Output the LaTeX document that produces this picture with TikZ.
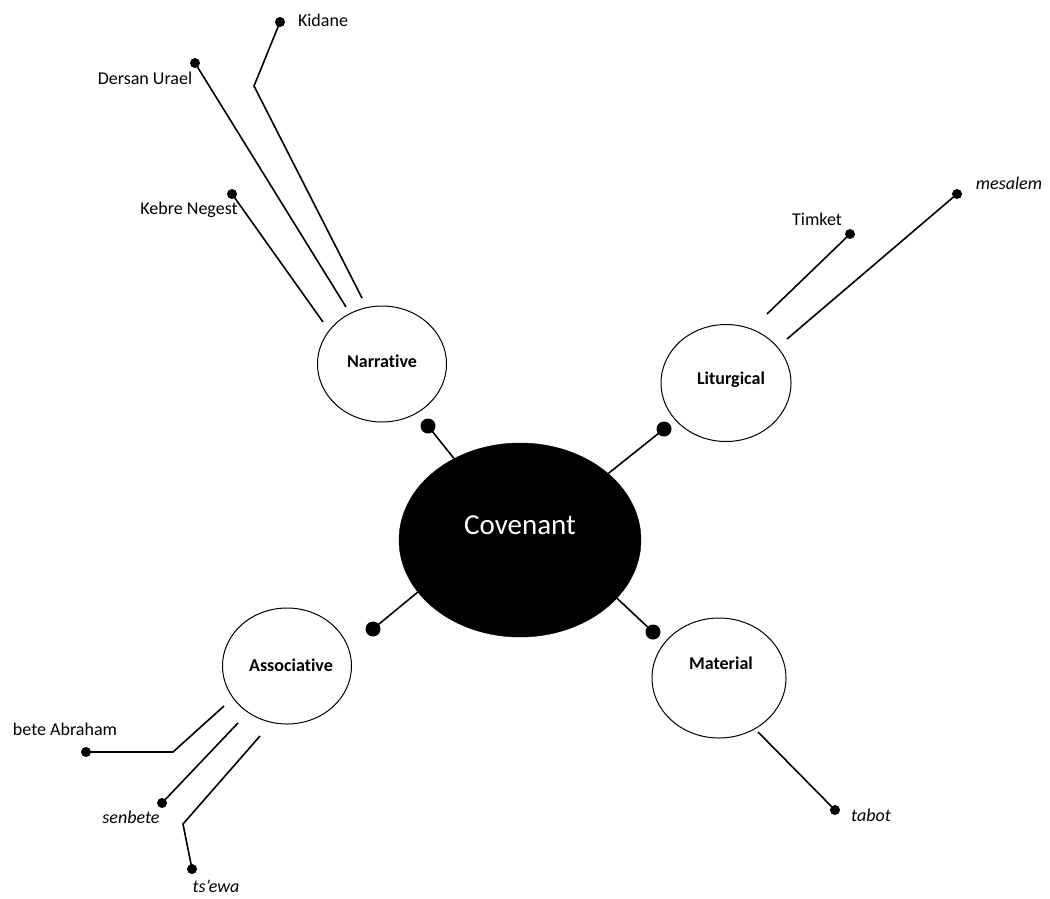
\documentclass[tikz,border=0pt]{standalone}
\usepackage{fontspec}
\setmainfont[RawFeature={-liga}]{Carlito}
\usetikzlibrary{shapes.geometric}
\begin{document}
\begin{tikzpicture}[x=1pt,y=-1pt,
  hub/.style={ellipse,fill=black,draw=black,minimum width=242pt,minimum height=194pt,inner sep=0pt},
  topic/.style={ellipse,draw=black,line width=1pt,fill=white,inner sep=0pt},
  bigdot/.style={circle,fill=black,inner sep=0pt,minimum size=15pt},
  leafdot/.style={circle,fill=black,inner sep=0pt,minimum size=10pt},
  link/.style={draw=black,line width=1.6pt},
  leaf/.style={inner sep=0pt,font=\fontsize{18}{21}\selectfont},
  ileaf/.style={leaf,font=\fontsize{18}{21}\selectfont\itshape},
  ttl/.style={inner sep=0pt,font=\fontsize{18}{21}\selectfont\bfseries}]
\useasboundingbox (0,0) rectangle (1050,898);

% central node
\node[hub] (cov) at (520,540) {};
\node[inner sep=0pt,text=white,font=\fontsize{29}{34}\selectfont] (covt) at (520,525) {Covenant};

% topic ellipses
\node[topic,minimum width=129pt,minimum height=116pt] (nar) at (382,364) {};
\node[ttl] (nart) at (382,361) {Narrative};
\node[topic,minimum width=130pt,minimum height=117pt] (lit) at (726,383) {};
\node[ttl] (litt) at (731,380) {Liturgical};
\node[topic,minimum width=129pt,minimum height=116pt] (ass) at (287,666) {};
\node[ttl] (asst) at (291,665) {Associative};
\node[topic,minimum width=134pt,minimum height=120pt] (mat) at (719,678) {};
\node[ttl] (matt) at (721,663) {Material};

% dots and connectors from the hub
\node[bigdot] (nd) at (428,426) {};
\node[bigdot] (ld) at (664,429) {};
\node[bigdot] (ad) at (373,629) {};
\node[bigdot] (md) at (653,632) {};
\draw[link] (cov.129) -- (nd.center);
\draw[link] (cov.37) -- (ld.center);
\draw[link] (cov.207) -- (ad.center);
\draw[link] (cov.-31) -- (md.center);

% Narrative leaves
\coordinate (kn0) at (323,322);
\node[leafdot] (kn) at (232,194) {};
\node[leaf] (knt) at (189,210) {Kebre Negest};
\draw[link] (kn0) -- (kn.center);
\coordinate (du0) at (346,307);
\node[leafdot] (du) at (195,63) {};
\node[leaf] (dut) at (145,78) {Dersan Urael};
\draw[link] (du0) -- (du.center);
\coordinate (ki0) at (362,298);
\coordinate (kib) at (254,86);
\node[leafdot] (ki) at (280,22) {};
\node[leaf] (kit) at (323,20) {Kidane};
\draw[link] (ki0) -- (kib) -- (ki.center);

% Liturgical leaves
\coordinate (ti0) at (767,314);
\node[leafdot] (ti) at (850,234) {};
\node[leaf] (tit) at (817,219) {Timket};
\draw[link] (ti0) -- (ti.center);
\coordinate (me0) at (787,339);
\node[leafdot] (me) at (957,194) {};
\node[ileaf] (met) at (1009,183) {mesalem};
\draw[link] (me0) -- (me.center);

% Material leaf
\coordinate (ta0) at (758,732);
\node[leafdot] (ta) at (835,810) {};
\node[ileaf] (tat) at (871,815) {tabot};
\draw[link] (ta0) -- (ta.center);

% Associative leaves
\coordinate (ba0) at (224,706);
\coordinate (bab) at (173,752);
\node[leafdot] (ba) at (86,752) {};
\node[leaf] (bat) at (65,729) {bete Abraham};
\draw[link] (ba0) -- (bab) -- (ba.center);
\coordinate (se0) at (238,723);
\node[leafdot] (se) at (162,803) {};
\node[ileaf] (set) at (131,817) {senbete};
\draw[link] (se0) -- (se.center);
\coordinate (ts0) at (260,736);
\coordinate (tsb) at (183,824);
\node[leafdot] (ts) at (192,869) {};
\node[ileaf] (tst) at (216,886) {ts’ewa};
\draw[link] (ts0) -- (tsb) -- (ts.center);
\end{tikzpicture}
\end{document}
